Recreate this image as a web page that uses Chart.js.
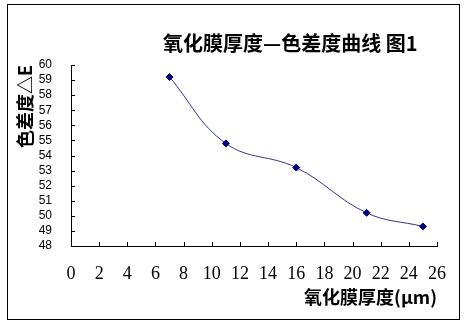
<!DOCTYPE html>
<html>
<head>
<meta charset="utf-8">
<script src="https://cdn.jsdelivr.net/npm/chart.js@4"></script>
<style>
  html, body { margin: 0; padding: 0; background: #fff; }
  #wrap { width: 464px; height: 326px; position: relative; }
</style>
</head>
<body>
<div id="wrap"><canvas id="c" width="464" height="326"></canvas></div>
<script>
// ---- data ----
const thickness = [7, 11, 16, 21, 25];          // 氧化膜厚度 (μm)
const deltaE = [59.2, 54.8, 53.2, 50.2, 49.3];   // 色差度 ΔE
const xMin = 0, xMax = 26, xStep = 2;
const yMin = 48, yMax = 60, yStep = 1;
const chartTitle = '氧化膜厚度—色差度曲线 图1';
const xTitle = '氧化膜厚度(μm)';
const yTitle = '色差度△E';

const points = thickness.map((x, i) => ({ x: x, y: deltaE[i] }));

const cjk = '"Noto Sans CJK SC", "Noto Sans", sans-serif';

const decor = {
  id: 'decor',
  beforeDraw(chart) {
    const ctx = chart.ctx;
    ctx.save();
    ctx.fillStyle = '#fff';
    ctx.fillRect(0, 0, chart.width, chart.height);
    ctx.strokeStyle = '#000';
    ctx.lineWidth = 1;
    ctx.strokeRect(7.5, 4.5, 452, 315);
    ctx.restore();
  },
  afterDraw(chart) {
    const ctx = chart.ctx;
    const xs = chart.scales.x, ys = chart.scales.y;
    const a = chart.chartArea;
    ctx.save();
    ctx.strokeStyle = '#000';
    ctx.lineWidth = 1;
    ctx.beginPath();
    xs.ticks.forEach(t => {
      const px = Math.round(xs.getPixelForValue(t.value)) + 0.5;
      ctx.moveTo(px, a.bottom);
      ctx.lineTo(px, a.bottom - 4);
    });
    ys.ticks.forEach(t => {
      const py = Math.round(ys.getPixelForValue(t.value)) + 0.5;
      ctx.moveTo(a.left, py);
      ctx.lineTo(a.left + 4, py);
    });
    ctx.stroke();
    // title
    ctx.fillStyle = '#000';
    ctx.font = 'bold 20px ' + cjk;
    ctx.textAlign = 'left';
    ctx.textBaseline = 'middle';
    ctx.fillText(chartTitle, 163, 43);
    ctx.restore();
  }
};

new Chart(document.getElementById('c'), {
  type: 'scatter',
  data: {
    datasets: [{
      data: points,
      showLine: true,
      tension: 0.4,
      borderColor: '#333399',
      borderWidth: 1,
      pointStyle: 'rectRot',
      pointRadius: 3.5,
      pointBackgroundColor: '#000080',
      pointBorderColor: '#000080',
      pointBorderWidth: 1
    }]
  },
  options: {
    responsive: false,
    animation: false,
    devicePixelRatio: 1,
    layout: { padding: { top: 65, right: 27, left: 0, bottom: 0 } },
    plugins: { legend: { display: false }, tooltip: { enabled: false }, title: { display: false } },
    scales: {
      x: {
        type: 'linear',
        min: xMin, max: xMax,
        afterFit(s) { s.height = 80; },
        grid: { display: false },
        border: { display: true, color: '#000', width: 1 },
        ticks: {
          stepSize: xStep,
          autoSkip: false,
          maxRotation: 0,
          color: '#000',
          padding: 9,
          font: { family: 'Liberation Serif', size: 18 }
        },
        title: {
          display: true, text: xTitle, align: 'end', color: '#000',
          font: { family: cjk, size: 18, weight: 'bold' },
          padding: { top: 0, bottom: 18 }
        }
      },
      y: {
        type: 'linear',
        min: yMin, max: yMax,
        afterFit(s) { s.width = 71; },
        grid: { display: false },
        border: { display: true, color: '#000', width: 1 },
        ticks: {
          stepSize: yStep,
          autoSkip: false,
          color: '#000',
          padding: 11,
          font: { family: 'Liberation Sans Narrow, Liberation Sans', size: 12 }
        },
        title: {
          display: true, text: yTitle, align: 'end', color: '#000',
          font: { family: cjk, size: 18, weight: 'bold' },
          padding: { top: 14, bottom: 0 }
        }
      }
    }
  },
  plugins: [decor]
});
</script>
</body>
</html>
